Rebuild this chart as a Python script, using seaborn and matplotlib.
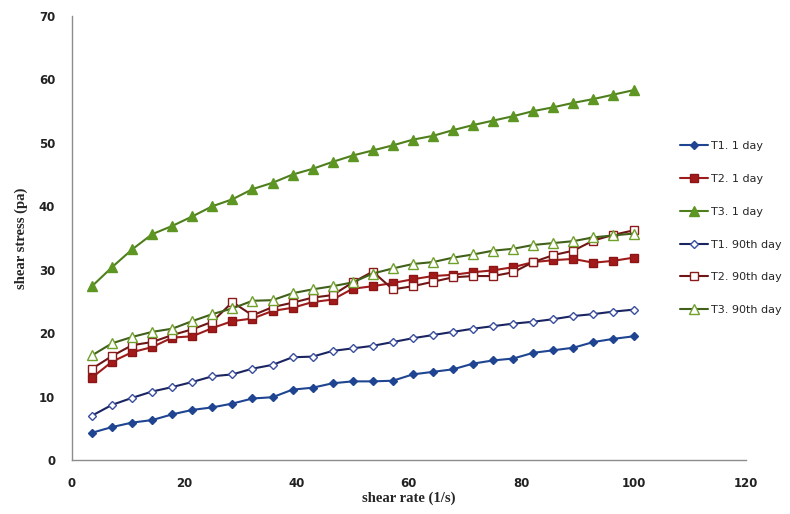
import numpy as np
import pandas as pd
import matplotlib
matplotlib.use("Agg")
import matplotlib.pyplot as plt
import seaborn as sns

# shear rate (1/s): 28 measurement points
shear_rate = [100 * k / 28 for k in range(1, 29)]

t1_day1 = [4.3, 5.2, 5.9, 6.3, 7.2, 7.9, 8.3, 8.9, 9.7, 9.9, 11.1, 11.4, 12.1, 12.4,
           12.4, 12.5, 13.5, 13.9, 14.3, 15.2, 15.7, 16.0, 16.9, 17.3, 17.7, 18.6, 19.1, 19.5]
t2_day1 = [13.0, 15.5, 17.0, 17.8, 19.3, 19.5, 20.8, 21.9, 22.3, 23.5, 24.0, 24.9, 25.3, 27.0,
           27.4, 27.9, 28.5, 29.0, 29.2, 29.6, 29.9, 30.4, 31.2, 31.5, 31.7, 31.1, 31.4, 31.9]
t3_day1 = [27.4, 30.4, 33.2, 35.6, 36.9, 38.4, 40.0, 41.1, 42.7, 43.7, 45.0, 45.9, 47.0, 48.0,
           48.8, 49.6, 50.5, 51.1, 52.0, 52.8, 53.5, 54.2, 55.0, 55.6, 56.3, 56.9, 57.6, 58.3]
t1_day90 = [7.0, 8.7, 9.8, 10.8, 11.5, 12.3, 13.2, 13.5, 14.4, 15.0, 16.2, 16.3, 17.2, 17.6,
            18.0, 18.6, 19.2, 19.7, 20.2, 20.7, 21.1, 21.5, 21.8, 22.2, 22.7, 23.0, 23.4, 23.7]
t2_day90 = [14.4, 16.4, 18.1, 18.6, 19.7, 20.6, 21.8, 24.9, 22.8, 24.1, 24.8, 25.6, 26.0, 28.0,
            29.7, 26.9, 27.4, 28.1, 28.8, 29.0, 29.0, 29.6, 31.2, 32.3, 33.0, 34.6, 35.5, 36.2]
t3_day90 = [16.5, 18.4, 19.4, 20.2, 20.7, 21.9, 23.0, 23.9, 25.1, 25.2, 26.3, 26.9, 27.4, 28.0,
            29.4, 30.2, 30.9, 31.2, 31.9, 32.4, 33.0, 33.3, 33.9, 34.2, 34.5, 35.1, 35.4, 35.7]

labels = ["T1. 1 day", "T2. 1 day", "T3. 1 day", "T1. 90th day", "T2. 90th day", "T3. 90th day"]
series = [t1_day1, t2_day1, t3_day1, t1_day90, t2_day90, t3_day90]

x_ticks = [0, 20, 40, 60, 80, 100, 120]
y_ticks = [0, 10, 20, 30, 40, 50, 60, 70]

sns.set_theme(style="white")
plt.rcParams['font.family'] = ['DejaVu Sans']

fig = plt.figure(figsize=(7.9, 5.14), dpi=100)
ax = fig.add_axes([0.0911, 0.105, 0.853, 0.864])

styles = [
    dict(color="#1F4592", marker="D", markersize=4.5, markerfacecolor="#1F4592", markeredgecolor="#1F4592"),
    dict(color="#9E1B1B", marker="s", markersize=6, markerfacecolor="#A31A1A", markeredgecolor="#8B1515"),
    dict(color="#4E7F1C", marker="^", markersize=6.5, markerfacecolor="#5E9623", markeredgecolor="#5E9623"),
    dict(color="#1A2460", marker="D", markersize=4.5, markerfacecolor="white", markeredgecolor="#3A4FA0"),
    dict(color="#6E1616", marker="s", markersize=6, markerfacecolor="white", markeredgecolor="#8B1A1A"),
    dict(color="#41601A", marker="^", markersize=6.5, markerfacecolor="white", markeredgecolor="#6FA02A"),
]

for lab, vals, st in zip(labels, series, styles):
    df = pd.DataFrame({"shear rate": shear_rate, "shear stress": vals})
    sns.lineplot(data=df, x="shear rate", y="shear stress", ax=ax, label=lab,
                 linewidth=1.5, markeredgewidth=1.0, **st)

ax.set_xlim(0, 120)
ax.set_ylim(0, 70)
ax.set_xticks(x_ticks)
ax.set_yticks(y_ticks)
for s in ["top", "right"]:
    ax.spines[s].set_visible(False)
for s in ["left", "bottom"]:
    ax.spines[s].set_color("#8C8C8C")
    ax.spines[s].set_linewidth(1.0)
ax.tick_params(axis="both", direction="out", length=4, width=1, color="#8C8C8C",
               labelsize=8.5, labelcolor="#222222")
ax.tick_params(axis="y", pad=8)
ax.tick_params(axis="x", pad=8)
for t in ax.get_xticklabels() + ax.get_yticklabels():
    t.set_fontweight("bold")

ax.set_xlabel("shear rate (1/s)", fontfamily="Liberation Serif", fontweight="bold",
              fontsize=10.5, labelpad=1)
ax.set_ylabel("shear stress (pa)", fontfamily="Liberation Serif", fontweight="bold",
              fontsize=10.5, labelpad=8)

ax.get_legend().remove()
handles, labs = ax.get_legend_handles_labels()
fig.legend(handles, labs, loc="center left", bbox_to_anchor=(0.848, 0.556),
           frameon=False, fontsize=8, handlelength=2.5, labelspacing=2.05,
           handletextpad=0.3)

fig.savefig("out.png", dpi=100)
